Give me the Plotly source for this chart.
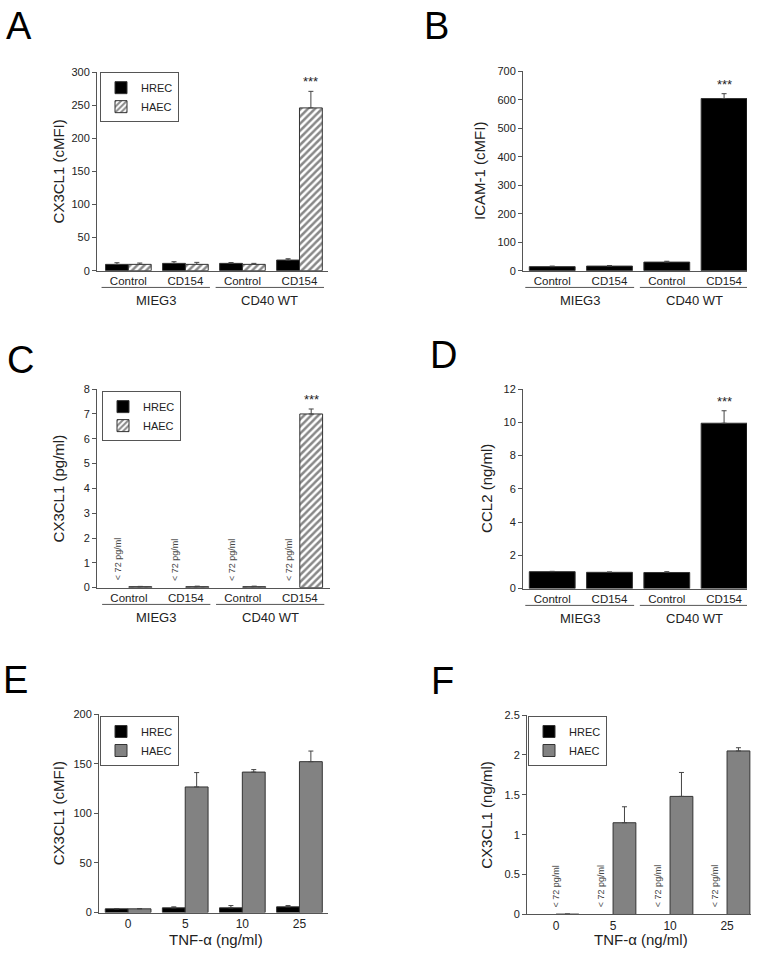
import plotly.graph_objects as go

W, H = 760, 959
FONT = "Arial, 'Liberation Sans', Helvetica, sans-serif"
TXT = "#222222"
AX = "#555555"

# ---------------- data ----------------
treat_labels = ["Control", "CD154", "Control", "CD154"]
vector_groups = ["MIEG3", "CD40 WT"]
cells = ["HREC", "HAEC"]
tnf_doses = ["0", "5", "10", "25"]
below_detection = "< 72 pg/ml"
sig_label = "***"

# A: CX3CL1 (cMFI)
a_hrec = [9.5, 11, 11, 16]
a_hrec_err = [2.5, 2.5, 1.2, 2]
a_haec = [9.5, 9.5, 9.5, 246]
a_haec_err = [2, 3, 1.5, 25]

# B: ICAM-1 (cMFI)
b_icam = [14, 16, 30, 604]
b_icam_err = [2, 2, 3, 17]

# C: CX3CL1 (pg/ml)
c_hrec = [None, None, None, None]
c_haec = [0.04, 0.04, 0.04, 7.0]
c_haec_err = [0.01, 0.02, 0.02, 0.2]

# D: CCL2 (ng/ml)
d_ccl2 = [1.02, 0.98, 0.97, 9.95]
d_ccl2_err = [0.02, 0.02, 0.05, 0.75]

# E: CX3CL1 (cMFI) vs TNF-a
e_hrec = [3.7, 4.7, 4.7, 5.7]
e_hrec_err = [0.3, 1.0, 2.3, 1.3]
e_haec = [3.7, 126.5, 141.5, 152]
e_haec_err = [0.3, 14.5, 2.5, 10.7]

# F: CX3CL1 (ng/ml) vs TNF-a
f_hrec = [None, None, None, None]
f_haec = [0.005, 1.15, 1.48, 2.05]
f_haec_err = [0.0, 0.2, 0.3, 0.04]
f_text_offsets = [0.0, -0.2, -0.2, -0.2]


def px_x(p):
    return p / W


def px_y(p):
    return 1 - p / H


fig = go.Figure()

# panel geometry (window pixels): x0, x1, ytop, ybottom
panels = {
    "A": dict(ax=1, x=(97, 328), y=(67, 268), rng=(-0.55, 3.50), yr=300, dt=50),
    "B": dict(ax=2, x=(523, 747), y=(66, 268), rng=(-0.51, 3.40), yr=700, dt=100),
    "C": dict(ax=3, x=(97, 330), y=(388, 589), rng=(-0.56, 3.53), yr=8, dt=1),
    "D": dict(ax=4, x=(523, 747), y=(388, 590), rng=(-0.51, 3.40), yr=12, dt=2),
    "E": dict(ax=5, x=(99, 328), y=(717, 918), rng=(-0.51, 3.50), yr=200, dt=50),
    "F": dict(ax=6, x=(527, 751), y=(718, 920), rng=(-0.51, 3.42), yr=2.5, dt=0.5),
}

hatch = dict(shape="/", size=5, solidity=0.5, fgcolor="#111111", bgcolor="white")
gray = "#828282"
pos = [0, 1, 2, 3]


def bar(y, err, name, ax, offset, width, color, pattern=None, legend=None, show=True):
    marker = dict(color=color, line=dict(color="#333333", width=1))
    if pattern:
        marker["pattern"] = pattern
    kw = {}
    if legend:
        kw["legend"] = legend
    return go.Bar(
        x=pos, y=y, name=name, offset=offset, width=width,
        marker=marker,
        error_y=dict(type="data", array=err, arrayminus=[0] * 4, symmetric=False,
                     color="#444444", thickness=1, width=2.5) if err else None,
        xaxis="x" if ax == 1 else f"x{ax}", yaxis="y" if ax == 1 else f"y{ax}",
        showlegend=show, **kw)


# A
fig.add_trace(bar(a_hrec, a_hrec_err, cells[0], 1, -0.4, 0.4, "black", legend="legend"))
fig.add_trace(bar(a_haec, a_haec_err, cells[1], 1, 0.0, 0.4, "white", hatch, legend="legend"))
# B
fig.add_trace(bar(b_icam, b_icam_err, "ICAM-1", 2, -0.4, 0.8, "black", show=False))
# C
fig.add_trace(bar(c_hrec, None, cells[0], 3, -0.4, 0.4, "black", legend="legend2"))
fig.add_trace(bar(c_haec, c_haec_err, cells[1], 3, 0.0, 0.4, "white", hatch, legend="legend2"))
# D
fig.add_trace(bar(d_ccl2, d_ccl2_err, "CCL2", 4, -0.4, 0.8, "black", show=False))
# E
fig.add_trace(bar(e_hrec, e_hrec_err, cells[0], 5, -0.4, 0.4, "black", legend="legend3"))
fig.add_trace(bar(e_haec, e_haec_err, cells[1], 5, 0.0, 0.4, gray, legend="legend3"))
# F
fig.add_trace(bar(f_hrec, None, cells[0], 6, -0.4, 0.4, "black", legend="legend4"))
fig.add_trace(bar(f_haec, f_haec_err, cells[1], 6, 0.0, 0.4, gray, legend="legend4"))

layout = dict(
    width=W, height=H, margin=dict(l=0, r=0, t=0, b=0),
    paper_bgcolor="white", plot_bgcolor="white",
    font=dict(family=FONT, color=TXT, size=11),
    barmode="overlay",
)

for key, p in panels.items():
    n = p["ax"]
    xs = "xaxis" if n == 1 else f"xaxis{n}"
    ys = "yaxis" if n == 1 else f"yaxis{n}"
    ticktext = tnf_doses if key in ("E", "F") else treat_labels
    layout[xs] = dict(
        domain=[px_x(p["x"][0]), px_x(p["x"][1])], range=list(p["rng"]),
        anchor="y" if n == 1 else f"y{n}",
        tickmode="array", tickvals=pos, ticktext=ticktext,
        ticks="", showline=True, linecolor=AX, linewidth=1,
        showgrid=False, zeroline=False,
        tickfont=dict(size=12 if key in ("E", "F") else 11.5, color=TXT),
        fixedrange=True,
    )
    layout[ys] = dict(
        domain=[px_y(p["y"][1]), px_y(p["y"][0])], range=[0, p["yr"]],
        anchor="x" if n == 1 else f"x{n}",
        dtick=p["dt"], tick0=0, ticks="outside", ticklen=4, tickcolor=AX,
        showline=True, linecolor=AX, linewidth=1,
        showgrid=False, zeroline=False,
        tickfont=dict(size=11, color=TXT),
        fixedrange=True,
    )

leg_common = dict(xanchor="left", yanchor="top", bordercolor=AX, borderwidth=1,
                  bgcolor="white", font=dict(size=11, color=TXT), itemwidth=30,
                  tracegroupgap=0, traceorder="normal")
layout["legend"] = dict(x=px_x(100), y=px_y(67), **leg_common)
layout["legend2"] = dict(x=px_x(102), y=px_y(390), **leg_common)
layout["legend3"] = dict(x=px_x(100), y=px_y(719), **leg_common)
layout["legend4"] = dict(x=px_x(528), y=px_y(719), **leg_common)

fig.update_layout(**layout)

ann = []
shapes = []

# panel letters (centre of glyph box)
letters = {"A": (19, 20), "B": (437, 20), "C": (20, 358), "D": (443, 353),
           "E": (15, 683), "F": (442, 684)}
for k, (lx, ly) in letters.items():
    ann.append(dict(text=k, x=px_x(lx), y=px_y(ly), xref="paper", yref="paper",
                    xanchor="center", yanchor="middle", showarrow=False,
                    font=dict(size=38, color="black", family=FONT)))

# y-axis titles
ytitles = {"A": ("CX3CL1 (cMFI)", 58), "B": ("ICAM-1 (cMFI)", 480),
           "C": ("CX3CL1 (pg/ml)", 58), "D": ("CCL2 (ng/ml)", 487),
           "E": ("CX3CL1 (cMFI)", 58), "F": ("CX3CL1 (ng/ml)", 487)}
for k, (t, tx) in ytitles.items():
    p = panels[k]
    yc = (p["y"][0] + p["y"][1]) / 2
    ann.append(dict(text=t, x=px_x(tx), y=px_y(yc), xref="paper", yref="paper",
                    textangle=-90, showarrow=False, xanchor="center", yanchor="middle",
                    font=dict(size=15, color=TXT)))

# TNF-a x titles
for k in ("E", "F"):
    p = panels[k]
    ann.append(dict(text="TNF-\u03b1 (ng/ml)", x=px_x((p["x"][0] + p["x"][1]) / 2 + 2),
                    y=px_y(945), xref="paper", yref="paper", showarrow=False,
                    xanchor="center", yanchor="middle", font=dict(size=15, color=TXT)))

# group underlines + labels for A-D
for k in ("A", "B", "C", "D"):
    p = panels[k]
    n = p["ax"]
    xr = "x" if n == 1 else f"x{n}"
    line_y = p["y"][1] + 17
    lab_y = p["y"][1] + 30
    for gi, g in enumerate(vector_groups):
        c0, c1 = 2 * gi, 2 * gi + 1
        shapes.append(dict(type="line", xref=xr, yref="paper",
                           x0=c0 - 0.47, x1=c1 + 0.43, y0=px_y(line_y), y1=px_y(line_y),
                           line=dict(color=AX, width=1)))
        ann.append(dict(text=g, x=(c0 + c1) / 2 - 0.02, y=px_y(lab_y), xref=xr, yref="paper",
                        showarrow=False, xanchor="center", yanchor="middle",
                        font=dict(size=13, color=TXT)))

# significance stars
sig = [("A", a_haec, a_haec_err, 0.2), ("B", b_icam, b_icam_err, 0.0),
       ("C", c_haec, c_haec_err, 0.2), ("D", d_ccl2, d_ccl2_err, 0.0)]
for k, vals, errs, off in sig:
    n = panels[k]["ax"]
    ann.append(dict(text=sig_label, x=3 + off, y=vals[3] + errs[3],
                    xref="x" if n == 1 else f"x{n}", yref="y" if n == 1 else f"y{n}",
                    showarrow=False, xanchor="center", yanchor="bottom", yshift=0,
                    font=dict(size=13, color=TXT)))

# below-detection labels
for i in range(4):
    ann.append(dict(text=below_detection, x=i - 0.2, y=0, xref="x3", yref="y3",
                    textangle=-90, showarrow=False, xanchor="center", yanchor="bottom",
                    yshift=5, font=dict(size=9, color="#444444")))
    ann.append(dict(text=below_detection, x=i + f_text_offsets[i], y=0, xref="x6", yref="y6",
                    textangle=-90, showarrow=False, xanchor="center", yanchor="bottom",
                    yshift=5, font=dict(size=9, color="#444444")))

fig.update_layout(annotations=ann, shapes=shapes)
# remove the browser's default 8px page margin so the figure fills the window exactly
fig.write_html("out.html", config={"displayModeBar": False},
               post_script="document.body.style.margin='0';")
